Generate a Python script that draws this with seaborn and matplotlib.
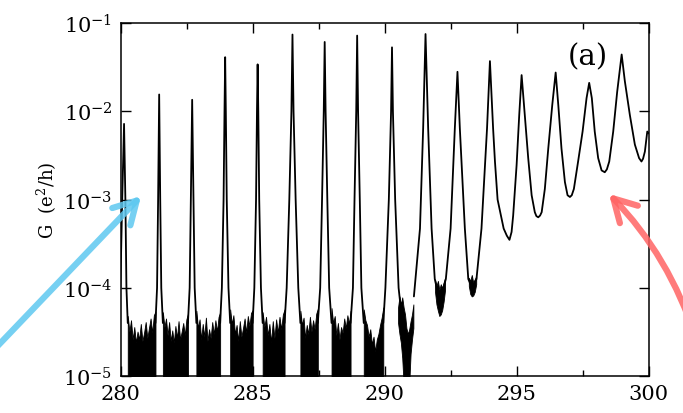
import numpy as np
import pandas as pd
import matplotlib
matplotlib.use("Agg")
import matplotlib.pyplot as plt
import seaborn as sns
from matplotlib.ticker import MultipleLocator, NullLocator, LogLocator

# gate voltage (x) and conductance G in e^2/h
# sharp peaks, one list per peak
seg_x = [
    [279.98, 280.05, 280.12, 280.17, 280.21, 280.26],
    [281.31, 281.37, 281.41, 281.45, 281.49, 281.53, 281.59],
    [282.54, 282.605, 282.65, 282.70, 282.75, 282.795, 282.86],
    [283.76, 283.825, 283.89, 283.925, 283.95, 283.975, 284.01, 284.075, 284.14],
    [284.99, 285.055, 285.12, 285.155, 285.18, 285.205, 285.24, 285.305, 285.37],
    [286.2, 286.28, 286.38, 286.46, 286.5, 286.54, 286.62, 286.72, 286.8],
    [287.46, 287.55, 287.62, 287.685, 287.72, 287.755, 287.82, 287.89, 287.98],
    [288.7, 288.79, 288.85, 288.915, 288.95, 288.985, 289.05, 289.11, 289.2],
    [289.94, 290.02, 290.15, 290.235, 290.27, 290.305, 290.39, 290.52, 290.6],
    # broad peaks on the right, one continuous piece
    [291.10, 291.33, 291.45, 291.54, 291.64, 291.77, 291.89, 292.08, 292.31,
     292.49, 292.65, 292.75, 292.84, 293.03, 293.16, 293.30, 293.47, 293.66,
     293.87, 293.98, 294.10, 294.17, 294.27, 294.50, 294.62, 294.72, 294.80,
     294.86, 294.99, 295.09, 295.18, 295.30, 295.43, 295.56, 295.68, 295.74,
     295.81, 295.88, 295.94, 296.06, 296.19, 296.34, 296.47, 296.57, 296.69,
     296.82, 296.92, 297.01, 297.08, 297.16, 297.32, 297.49, 297.64, 297.74,
     297.84, 297.95, 298.08, 298.21, 298.33, 298.41, 298.50, 298.65, 298.80,
     298.97, 299.09, 299.28, 299.47, 299.63, 299.72, 299.78, 299.85, 299.94,
     300.0],
]
seg_g = [
    [1e-4, 1e-3, 7.2e-3, 1e-3, 1e-4, 4e-5],
    [4e-5, 1e-4, 1e-3, 1.55e-2, 1e-3, 1e-4, 4e-5],
    [4e-5, 1e-4, 1e-3, 1.35e-2, 1e-3, 1e-4, 4e-5],
    [4e-5, 1e-4, 1e-3, 1e-2, 4.1e-2, 1e-2, 1e-3, 1e-4, 4e-5],
    [4e-5, 1e-4, 1e-3, 1e-2, 3.4e-2, 1e-2, 1e-3, 1e-4, 4e-5],
    [4e-5, 1e-4, 1e-3, 1e-2, 7.4e-2, 1e-2, 1e-3, 1e-4, 4e-5],
    [4e-5, 1e-4, 1e-3, 1e-2, 6.1e-2, 1e-2, 1e-3, 1e-4, 4e-5],
    [4e-5, 1e-4, 1e-3, 1e-2, 7.2e-2, 1e-2, 1e-3, 1e-4, 4e-5],
    [4e-5, 1e-4, 1e-3, 1e-2, 5.3e-2, 1e-2, 1e-3, 1e-4, 6e-5],
    [8e-5, 4.7e-4, 6.4e-3, 7.5e-2, 6.4e-3, 4.7e-4, 1.26e-4, 7e-5, 1.26e-4,
     4.7e-4, 6.4e-3, 2.8e-2, 6.4e-3, 4.7e-4, 1.26e-4, 1e-4, 1.26e-4, 4.7e-4,
     6.4e-3, 3.7e-2, 6.4e-3, 2.7e-3, 1.0e-3, 4.7e-4, 3.9e-4, 3.5e-4, 4.3e-4,
     6.6e-4, 2.45e-3, 9.1e-3, 2.57e-2, 9.1e-3, 2.95e-3, 1.12e-3, 7.2e-4, 6.5e-4,
     6.3e-4, 6.6e-4, 7.2e-4, 1.32e-3, 3.8e-3, 1.17e-2, 2.75e-2, 1.17e-2, 3.8e-3,
     1.58e-3, 1.12e-3, 1.07e-3, 1.12e-3, 1.32e-3, 2.7e-3, 5.9e-3, 1.41e-2, 2.1e-2,
     1.41e-2, 5.9e-3, 2.95e-3, 2.14e-3, 2.04e-3, 2.2e-3, 2.7e-3, 5.9e-3, 1.66e-2,
     4.4e-2, 2.2e-2, 9.1e-3, 4.2e-3, 2.95e-3, 2.7e-3, 2.9e-3, 3.5e-3, 5.9e-3,
     5.6e-3],
]

# noise floor between the peaks (units of 1e-5)
noise_start = [280.26, 281.59, 282.86, 284.14, 285.37, 286.8, 287.98, 289.2, 290.5, 291.9, 293.18]
noise_end = [281.31, 282.54, 283.76, 284.99, 286.2, 287.46, 288.7, 289.94, 291.08, 292.28, 293.46]
noise_top = [
    [4.8, 3.2, 4.3, 2.6, 3.6, 2.4, 3.2, 2.6, 3.9, 2.5, 3.1, 4.1, 2.7, 3.5, 4.5, 3.1, 4.9, 5.4],
    [5.3, 3.6, 4.5, 2.9, 4.1, 2.5, 3.3, 2.4, 3.7, 2.7, 4.2, 2.6, 3.2, 4.0, 2.9, 4.4, 5.1],
    [5.5, 3.5, 4.4, 2.6, 3.9, 2.8, 4.6, 2.5, 3.4, 2.7, 4.1, 3.0, 4.3, 3.2, 4.7, 5.3],
    [5.7, 3.9, 4.9, 3.0, 3.8, 2.5, 4.2, 2.8, 3.5, 4.5, 3.1, 4.8, 3.7, 5.2, 5.6],
    [5.3, 3.6, 4.7, 2.9, 3.9, 2.4, 4.2, 2.7, 4.4, 3.1, 4.7, 3.4, 5.0, 5.7],
    [5.5, 3.8, 4.6, 2.7, 3.8, 3.0, 4.7, 3.2, 4.3, 3.4, 5.1, 5.8],
    [5.9, 4.0, 4.8, 2.9, 4.0, 2.6, 3.6, 3.1, 4.5, 3.5, 4.9, 3.9, 5.5],
    [5.7, 4.3, 3.8, 2.8, 3.4, 2.3, 2.8, 1.9, 2.6, 3.0, 3.8, 4.6, 6.0],
    [6.0, 8.0, 6.5, 7.8, 6.0, 5.0, 3.5, 3.0, 3.4, 4.2, 5.0, 6.5],
    [12.5, 10.5, 12.0, 9.5, 11.0, 10.0, 11.5, 13.0],
    [13.0, 12.0, 14.0, 11.5, 12.5, 13.5],
]
noise_bot = [
    None, None, None, None, None, None, None, None,
    [4.0, 3.0, 2.4, 1.6, 0.8, 0.8, 0.8, 0.8, 0.8, 1.8, 2.6, 3.5],
    [9.0, 6.5, 5.5, 4.8, 5.0, 5.6, 7.0, 9.5],
    [10.5, 8.5, 8.0, 8.2, 9.0, 11.0],
]

rows = []
for i, (xs, gs) in enumerate(zip(seg_x, seg_g)):
    for x, g in zip(xs, gs):
        rows.append({"V": x, "G": g, "seg": i})
trace = pd.DataFrame(rows)

sns.set_style("ticks")
plt.rcParams["font.family"] = ["DejaVu Serif"]
plt.rcParams["mathtext.fontset"] = "dejavuserif"
for k in ["text.color", "axes.labelcolor", "xtick.color", "ytick.color", "axes.edgecolor"]:
    plt.rcParams[k] = "black"

fig = plt.figure(figsize=(6.83, 4.14), dpi=100)
ax = fig.add_axes([0.177, 0.089, 0.773, 0.853])

sns.lineplot(data=trace, x="V", y="G", units="seg", estimator=None, sort=False,
             color="black", lw=1.3, legend=False, ax=ax)

for i in range(len(noise_top)):
    top = np.array(noise_top[i]) * 1e-5
    xs = np.linspace(noise_start[i], noise_end[i], len(top))
    if noise_bot[i] is None:
        bot = 0.8e-5
    else:
        bot = np.array(noise_bot[i]) * 1e-5
    ax.fill_between(xs, bot, top, color="black", lw=0.6)

ax.set_yscale("log")
ax.set_xlim(280, 300)
ax.set_ylim(1e-5, 1e-1)
ax.xaxis.set_major_locator(MultipleLocator(5))
ax.xaxis.set_minor_locator(MultipleLocator(2.5))
ax.yaxis.set_major_locator(LogLocator(base=10, numticks=10))
ax.yaxis.set_minor_locator(NullLocator())
ax.tick_params(which="both", direction="in", top=True, right=True, width=1, labelsize=15)
ax.tick_params(which="major", length=7, pad=6)
ax.tick_params(which="minor", length=4)
for s in ax.spines.values():
    s.set_linewidth(1.1)

ax.set_xlabel("")
ax.set_ylabel("G  (e$^2$/h)", fontsize=13, labelpad=3)
ax.text(0.884, 0.906, "(a)", transform=ax.transAxes, fontsize=21,
        ha="center", va="center")

# highlight arrows drawn over the figure
ax.annotate("", xy=(0.2094, 0.529), xycoords="figure fraction",
            xytext=(-0.015, 0.142), textcoords="figure fraction",
            arrowprops=dict(arrowstyle="->,head_length=0.8,head_width=0.45",
                            color="#5ec8f0", lw=4.5, alpha=0.85,
                            mutation_scale=20, capstyle="round"),
            annotation_clip=False)
ax.annotate("", xy=(0.8887, 0.534), xycoords="figure fraction",
            xytext=(1.02, 0.175), textcoords="figure fraction",
            arrowprops=dict(arrowstyle="->,head_length=0.8,head_width=0.45",
                            color="#ff6464", lw=4.5, alpha=0.85,
                            mutation_scale=20, capstyle="round",
                            connectionstyle="arc3,rad=0.12"),
            annotation_clip=False)

fig.savefig("out.png", dpi=100)
